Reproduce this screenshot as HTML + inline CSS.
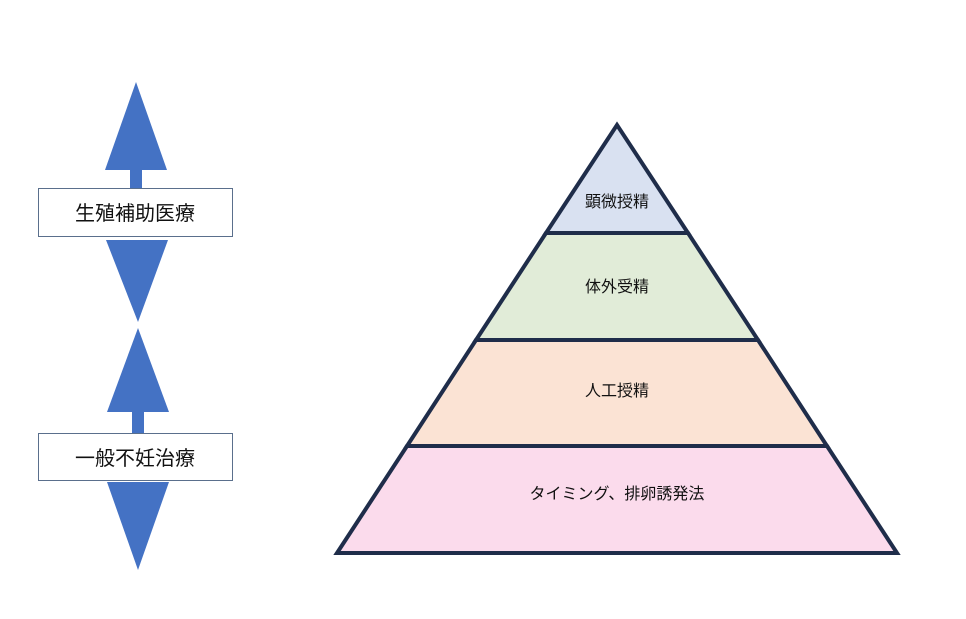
<!DOCTYPE html>
<html><head><meta charset="utf-8"><style>
body{margin:0;background:#fff;width:966px;height:614px;overflow:hidden}
svg text{font-family:"Liberation Sans","Noto Sans CJK JP",sans-serif;fill:#111}
</style></head><body>
<svg width="966" height="614" viewBox="0 0 966 614" xmlns="http://www.w3.org/2000/svg">
<g fill="#4472c4">
<polygon points="136,82 105,170 167,170"/>
<rect x="130" y="168" width="12" height="22"/>
<polygon points="106,240 168,240 138,322"/>
<polygon points="138,328 107,412 169,412"/>
<rect x="132" y="410" width="12" height="24"/>
<polygon points="107,482 169,482 138,570"/>
</g>
<rect x="38.5" y="188.5" width="194" height="48" fill="#fff" stroke="#5a6f8c" stroke-width="1"/>
<text x="135" y="220" font-size="20" text-anchor="middle">生殖補助医療</text>
<rect x="38.5" y="433.5" width="194" height="47" fill="#fff" stroke="#5a6f8c" stroke-width="1"/>
<text x="135" y="465" font-size="20" text-anchor="middle">一般不妊治療</text>
<g stroke="#1f2d4a" stroke-width="4" stroke-linejoin="miter">
<polygon points="617,125 688,233 546,233" fill="#d9e1f1"/>
<polygon points="546,233 688,233 758,340 476,340" fill="#e1ecd8"/>
<polygon points="476,340 758,340 827,446 407,446" fill="#fbe3d4"/>
<polygon points="407,446 827,446 897,553 337,553" fill="#fbdbec"/>
</g>
<g font-size="16" text-anchor="middle">
<text x="617" y="207">顕微授精</text>
<text x="617" y="292">体外受精</text>
<text x="617" y="396">人工授精</text>
<text x="617" y="499">タイミング、排卵誘発法</text>
</g>
</svg>
</body></html>
